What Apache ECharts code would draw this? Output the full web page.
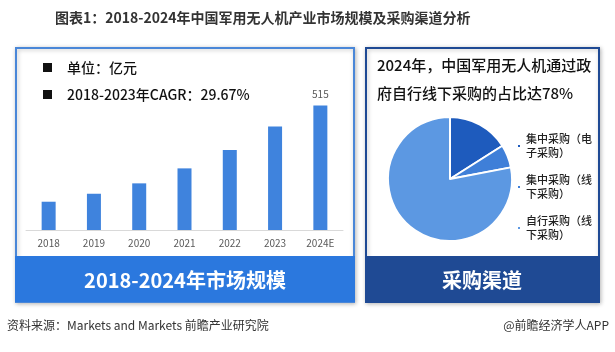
<!DOCTYPE html>
<html>
<head>
<meta charset="utf-8">
<script src="https://cdn.jsdelivr.net/npm/echarts@6/dist/echarts.min.js"></script>
<style>
  html, body { margin: 0; padding: 0; background: #fff; }
  #chart_box { width: 615px; height: 352px; }
</style>
</head>
<body>
<div id="chart_box"></div>
<script>
// 市场规模（亿元）
const years = ['2018', '2019', '2020', '2021', '2022', '2023', '2024E'];
const marketSize = [117, 150, 193, 255, 331, 428, 515];

// 采购渠道占比（%）
const channels = ['集中采购（电子采购）', '集中采购（线下采购）', '自行采购（线下采购）'];
const channelShare = [16, 6, 78];
const channelColors = ['#1e5bbd', '#3f7fd8', '#5c98e2'];

const font = '"Noto Sans CJK SC", "Noto Sans", sans-serif';

const myChart = echarts.init(document.getElementById('chart_box'));

const option = {
  backgroundColor: '#fff',
  textStyle: { fontFamily: font },
  graphic: [
    // 标题
    { type: 'text', left: 55, top: 11,
      style: { text: '图表1：2018-2024年中国军用无人机产业市场规模及采购渠道分析',
        fontSize: 14, fontWeight: 'bold', fill: '#333', fontFamily: font } },
    // 左侧面板
    { type: 'rect', shape: { x: 16, y: 48, width: 338, height: 254 },
      style: { fill: '#fff', stroke: '#4a87d8', lineWidth: 2,
        shadowBlur: 4, shadowColor: 'rgba(0,0,0,0.25)', shadowOffsetX: 1, shadowOffsetY: 1 }, z: -10 },
    { type: 'rect', shape: { x: 15, y: 256, width: 340, height: 46 },
      style: { fill: '#2b78de' }, z: -9 },
    { type: 'text', x: 185, y: 280,
      style: { text: '2018-2024年市场规模', fontSize: 20, fontWeight: 'bold', fill: '#fff',
        align: 'center', verticalAlign: 'middle', fontFamily: font } },
    // 左侧说明
    { type: 'rect', shape: { x: 43, y: 63, width: 9, height: 9 }, style: { fill: '#111' } },
    { type: 'text', x: 67, y: 68,
      style: { text: '单位：亿元', fontSize: 14, fontWeight: 500, fill: '#111',
        verticalAlign: 'middle', fontFamily: font } },
    { type: 'rect', shape: { x: 43, y: 90, width: 9, height: 9 }, style: { fill: '#111' } },
    { type: 'text', x: 67, y: 95,
      style: { text: '2018-2023年CAGR：29.67%', fontSize: 14, fontWeight: 500, fill: '#111',
        verticalAlign: 'middle', fontFamily: font } },
    // 右侧面板
    { type: 'rect', shape: { x: 366, y: 48, width: 233, height: 254 },
      style: { fill: '#fff', stroke: '#1f4a94', lineWidth: 2,
        shadowBlur: 4, shadowColor: 'rgba(0,0,0,0.25)', shadowOffsetX: 1, shadowOffsetY: 1 }, z: -10 },
    { type: 'rect', shape: { x: 365, y: 256, width: 235, height: 46 },
      style: { fill: '#1f4a94' }, z: -9 },
    { type: 'text', x: 482, y: 280,
      style: { text: '采购渠道', fontSize: 20, fontWeight: 'bold', fill: '#fff',
        align: 'center', verticalAlign: 'middle', fontFamily: font } },
    { type: 'text', x: 377, y: 65,
      style: { text: '2024年，中国军用无人机通过政', fontSize: 15, fontWeight: 500, fill: '#111',
        verticalAlign: 'middle', fontFamily: font } },
    { type: 'text', x: 377, y: 93,
      style: { text: '府自行线下采购的占比达78%', fontSize: 15, fontWeight: 500, fill: '#111',
        verticalAlign: 'middle', fontFamily: font } },
    // 来源
    { type: 'text', x: 7, y: 325,
      style: { text: '资料来源：Markets and Markets 前瞻产业研究院', fontSize: 12, fill: '#333',
        verticalAlign: 'middle', fontFamily: font } },
    { type: 'text', x: 609, y: 325,
      style: { text: '@前瞻经济学人APP', fontSize: 12, fill: '#333', align: 'right',
        verticalAlign: 'middle', fontFamily: font } }
  ],
  grid: { left: 26, right: 272, top: 85, bottom: 122 },
  xAxis: {
    type: 'category',
    data: years,
    axisLine: { lineStyle: { color: '#d9d9d9' } },
    axisTick: { show: false },
    axisLabel: { color: '#595959', fontSize: 10, margin: 8 }
  },
  yAxis: { type: 'value', min: 0, max: 600, show: false, splitLine: { show: false } },
  legend: {
    orient: 'vertical',
    left: 511,
    top: 127,
    itemWidth: 4,
    itemHeight: 4,
    itemGap: 13,
    icon: 'rect',
    data: channels,
    textStyle: { fontSize: 11, fontWeight: 500, color: '#222', lineHeight: 14, fontFamily: font },
    formatter: function (name) {
      return name.slice(0, 6) + '\n' + name.slice(6);
    }
  },
  series: [
    {
      type: 'bar',
      data: marketSize.map(function (v, i) {
        return {
          value: v,
          label: { show: i === marketSize.length - 1 }
        };
      }),
      barWidth: 14,
      itemStyle: { color: '#3f83dd' },
      label: { position: 'top', color: '#595959', fontSize: 10, distance: 6 },
      silent: true
    },
    {
      type: 'pie',
      center: [450, 179],
      radius: 62,
      startAngle: 90,
      clockwise: true,
      label: { show: false },
      itemStyle: { borderColor: '#fff', borderWidth: 2 },
      data: channels.map(function (n, i) {
        return { name: n, value: channelShare[i], itemStyle: { color: channelColors[i] } };
      }),
      silent: true
    }
  ]
};

myChart.setOption(option);
</script>
</body>
</html>
